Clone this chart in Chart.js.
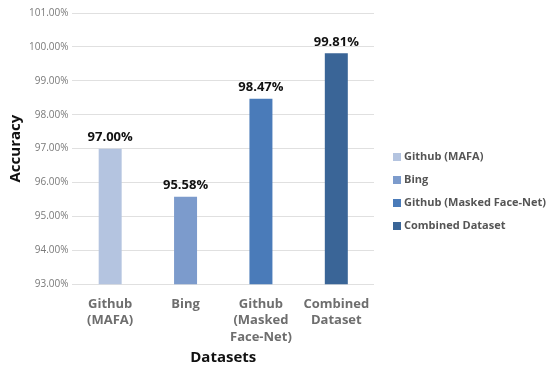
<!DOCTYPE html>
<html lang="en">
<head>
    <meta charset="UTF-8">
    <title>Accuracy by dataset</title>
    <style>
        html, body { margin: 0; padding: 0; background: #fff; }
        .chart-box { width: 550px; height: 371px; }
    </style>
</head>
<body>
    <div class="chart-box">
        <canvas id="accChart"></canvas>
    </div>

    <script src="https://cdn.jsdelivr.net/npm/chart.js"></script>
    <script>
        // data
        const categories = [['Github', '(MAFA)'], ['Bing'], ['Github', '(Masked', 'Face-Net)'], ['Combined', 'Dataset']];
        const legendNames = ['Github (MAFA)', 'Bing', 'Github (Masked Face-Net)', 'Combined Dataset'];
        const accuracy = [97.00, 95.58, 98.47, 99.81];
        const barColors = ['#b4c4e0', '#7c9bcc', '#4a7bb9', '#3a6597'];
        const yMin = 93, yMax = 101, yStep = 1;

        const fontFam = "'Open Sans', 'Liberation Sans', sans-serif";

        // draws the % value above each bar
        const valueLabels = {
            id: 'valueLabels',
            afterDatasetsDraw(chart) {
                const ctx = chart.ctx;
                const meta = chart.getDatasetMeta(0);
                ctx.save();
                ctx.font = 'bold 13px ' + fontFam;
                ctx.fillStyle = '#111';
                ctx.textAlign = 'center';
                ctx.textBaseline = 'bottom';
                meta.data.forEach((bar, i) => {
                    ctx.fillText(accuracy[i].toFixed(2) + '%', bar.x, bar.y - 5);
                });
                ctx.restore();
            }
        };

        // legend on the right, drawn by hand so the long name is not cut
        const sideLegend = {
            id: 'sideLegend',
            afterDraw(chart) {
                const ctx = chart.ctx;
                const x = 393;
                let y = 157;
                ctx.save();
                ctx.font = 'bold 11px ' + fontFam;
                ctx.textBaseline = 'middle';
                ctx.textAlign = 'left';
                legendNames.forEach((name, i) => {
                    ctx.fillStyle = barColors[i];
                    ctx.fillRect(x, y - 4, 8, 8);
                    ctx.fillStyle = '#555';
                    ctx.fillText(name, x + 11, y);
                    y += 23;
                });
                ctx.restore();
            }
        };

        const config = {
            type: 'bar',
            data: {
                labels: categories,
                datasets: [{
                    label: 'Accuracy',
                    data: accuracy,
                    backgroundColor: barColors,
                    barPercentage: 0.61,
                    categoryPercentage: 0.5
                }]
            },
            options: {
                responsive: true,
                maintainAspectRatio: false,
                animation: false,
                layout: { padding: { top: 13, right: 176, left: 2, bottom: 4 } },
                scales: {
                    x: {
                        grid: { display: false },
                        border: { display: false },
                        ticks: {
                            color: '#6e6e6e',
                            font: { family: fontFam, size: 13, weight: 'bold', lineHeight: 1.25 },
                            maxRotation: 0,
                            autoSkip: false,
                            padding: 4
                        },
                        title: {
                            display: true,
                            text: 'Datasets',
                            color: '#111',
                            font: { family: fontFam, size: 15, weight: 'bold' },
                            padding: { top: 0, bottom: 0 }
                        }
                    },
                    y: {
                        min: yMin,
                        max: yMax,
                        ticks: {
                            stepSize: yStep,
                            color: '#7a7a7a',
                            font: { family: fontFam, size: 10 },
                            padding: 4,
                            callback: v => v.toFixed(2) + '%'
                        },
                        grid: { color: '#e0e0e0', drawTicks: false },
                        border: { display: false },
                        title: {
                            display: true,
                            text: 'Accuracy',
                            color: '#111',
                            font: { family: fontFam, size: 15, weight: 'bold' },
                            padding: { top: 5, bottom: 0 }
                        }
                    }
                },
                plugins: {
                    legend: { display: false },
                    tooltip: { enabled: false }
                }
            },
            plugins: [valueLabels, sideLegend]
        };

        const accChart = new Chart(document.getElementById('accChart'), config);
    </script>
</body>
</html>
